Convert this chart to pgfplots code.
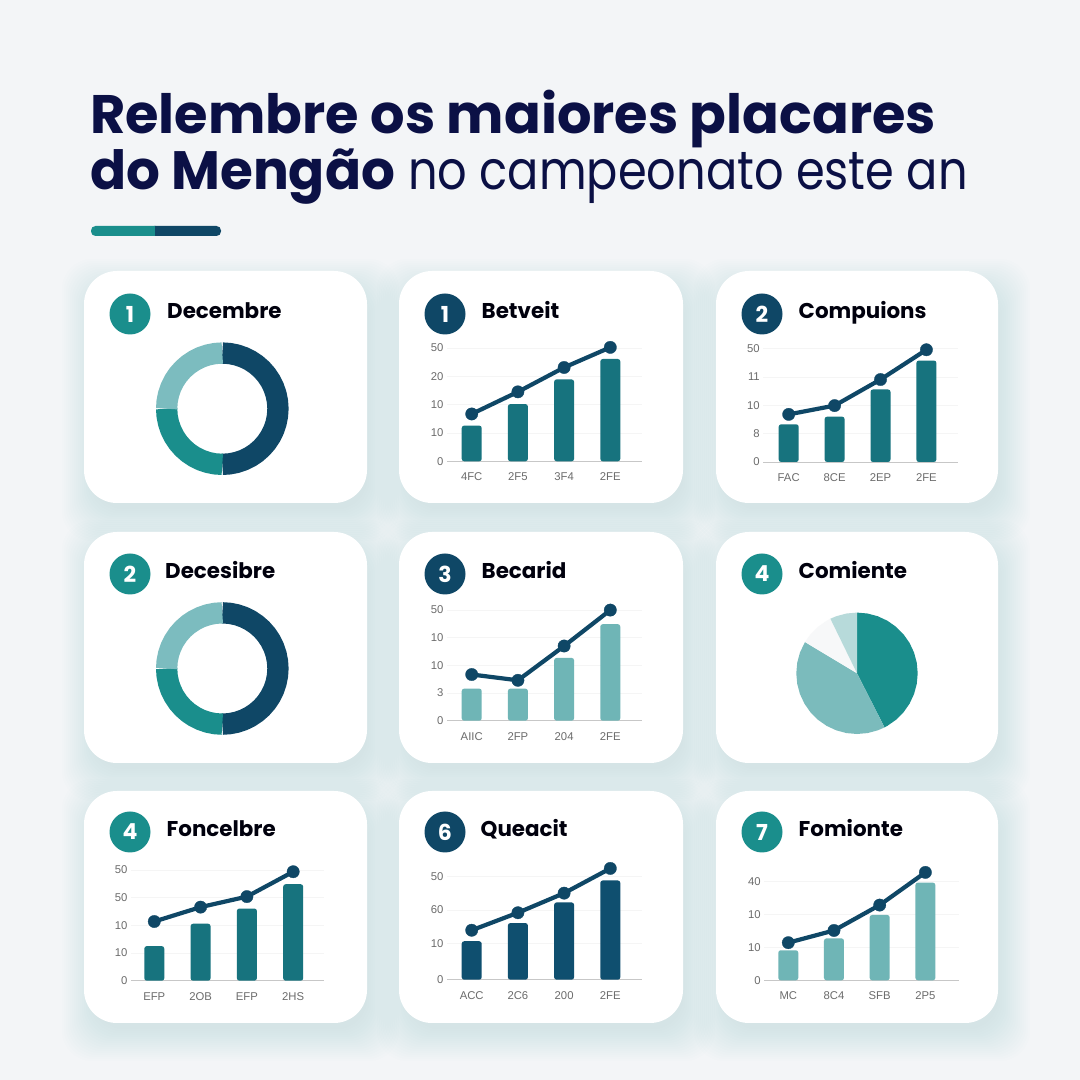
\documentclass[border=0pt]{standalone}
\usepackage{fontspec}
\setmainfont{Poppins}
\newfontfamily\ls{Liberation Sans}
\usepackage{pgfplots}
\pgfplotsset{compat=1.18}
\definecolor{bgc}{HTML}{F3F5F7}
\definecolor{navy}{HTML}{0F4766}
\definecolor{teal1}{HTML}{1A8E8C}
\definecolor{barteal}{HTML}{17737E}
\definecolor{barnavy}{HTML}{0F4F6F}
\definecolor{barlight}{HTML}{6FB5B6}
\definecolor{lightring}{HTML}{7CBCBF}
\definecolor{titlec}{HTML}{0B1045}
\definecolor{shad}{HTML}{5A7F95}
\newcommand{\card}[4]{% left, top, right, bottom in pixels from the top left
  \foreach \i in {0,...,16}{
    \fill[shad,opacity=0.0085,rounded corners=30pt]
      ({#1-22+2*\i},{1080-#4-38+2*\i}) rectangle ({#3+32-2*\i},{1080-#2+12-2*\i});
  }
  \fill[white,rounded corners=33pt] (#1,{1080-#4}) rectangle (#3,{1080-#2});
}
\newcommand{\head}[6]{% badge x, y, colour, digit, title x, title
  \fill[#3] (#1,{1080-#2}) circle (20.5);
  \node[white,font=\fontsize{22}{22}\selectfont\bfseries] at (#1,{1080-#2}) {#4};
  \node[anchor=base west,inner sep=0pt,text=black!95!blue,font=\fontsize{21.4}{21.4}\selectfont\bfseries] at (#5,{1080-#2-4.5}) {#6};
}
\pgfplotsset{
  barchart/.style={
    scale only axis, clip=false, ymin=0,
    axis x line=bottom, axis y line=left,
    axis line style={-},
    x axis line style={draw=black!22!white,line width=0.9pt},
    y axis line style={draw=none},
    major tick length=0pt,
    ymajorgrids, grid style={draw=black!4!white,line width=0.7pt},
    xtick={0,1,2,3},
    tick label style={font=\fontsize{11.3}{12}\selectfont\ls,text=black!58!white},
    xticklabel style={yshift=-8pt},
    yticklabel style={xshift=0pt},
    /pgf/number format/assume math mode=true,
    anchor=south west,
  },
  barplot/.style={ybar,bar width=20pt,draw=none,fill=#1,rounded corners=2.5pt,forget plot},
  lineplot/.style={color=navy,line width=4.2pt,line join=round,mark=*,mark size=6.2pt,mark options={fill=navy,draw=navy,line width=0.3pt},forget plot},
  ring/.style={hide axis,scale only axis,clip=false,anchor=center,width=140pt,height=140pt,xmin=-70,xmax=70,ymin=-70,ymax=70},
  seg/.style={draw=#1,line width=21.3pt,line cap=butt,line join=round,no markers,data cs=polar,forget plot},
  wedge/.style={fill=#1,draw=none,no markers,data cs=polar,forget plot},
}
\begin{document}
\begin{tikzpicture}[x=1pt,y=1pt]
\fill[bgc] (0,0) rectangle (1080,1080);
\path[use as bounding box] (0,0) rectangle (1080,1080);

% title
\node[anchor=base west,inner sep=0pt,text=titlec,font=\fontsize{54.2}{54}\selectfont\bfseries] at (90,946) {Relembre os maiores placares};
\node[anchor=base west,inner sep=0pt,text=titlec,font=\fontsize{54}{54}\selectfont\bfseries] at (90,890) {\scalebox{0.985}[1]{do Mengão}};
\node[anchor=base west,inner sep=0pt,text=titlec,font=\fontsize{54}{54}\selectfont] at (408,890) {\scalebox{0.857}[1]{no campeonato este an}};
\fill[navy,rounded corners=4.5pt] (150,844) rectangle (221,854);
\fill[teal1,rounded corners=4.5pt] (91,844) rectangle (160,854);
\fill[navy] (155,844) rectangle (165,854);

% cards
\card{84}{271}{367}{503}\card{399}{271}{683}{503}\card{716}{271}{998}{503}
\card{84}{532}{367}{763}\card{399}{532}{683}{763}\card{716}{532}{998}{763}
\card{84}{791}{367}{1023}\card{399}{791}{683}{1023}\card{716}{791}{998}{1023}

\head{130}{314}{teal1}{1}{167}{Decembre}
\head{445}{314}{navy}{1}{481.5}{Betveit}
\head{762}{314}{navy}{2}{798.5}{Compuions}
\head{130}{574}{teal1}{2}{165}{Decesibre}
\head{445}{574}{navy}{3}{481.5}{Becarid}
\head{762}{574}{teal1}{4}{798.5}{Comiente}
\head{130}{832}{teal1}{4}{166.5}{Foncelbre}
\head{445}{832}{navy}{6}{480.5}{Queacit}
\head{762}{832}{teal1}{7}{798.5}{Fomionte}

% donut 1
\begin{axis}[ring,at={(222.3pt,671.3pt)}]
\addplot[seg=navy] coordinates {(90,55.65)(82.5,55.65)(75,55.65)(67.5,55.65)(60,55.65)(52.5,55.65)(45,55.65)(37.5,55.65)(30,55.65)(22.5,55.65)(15,55.65)(7.5,55.65)(0,55.65)(-7.5,55.65)(-15,55.65)(-22.5,55.65)(-30,55.65)(-37.5,55.65)(-45,55.65)(-52.5,55.65)(-60,55.65)(-67.5,55.65)(-75,55.65)(-82.5,55.65)(-90,55.65)};
\addplot[seg=teal1] coordinates {(-90,55.65)(-97.5,55.65)(-105,55.65)(-112.5,55.65)(-120,55.65)(-127.5,55.65)(-135,55.65)(-142.5,55.65)(-150,55.65)(-157.5,55.65)(-165,55.65)(-172.5,55.65)(-180,55.65)};
\addplot[seg=lightring] coordinates {(180,55.65)(172.5,55.65)(165,55.65)(157.5,55.65)(150,55.65)(142.5,55.65)(135,55.65)(127.5,55.65)(120,55.65)(112.5,55.65)(105,55.65)(97.5,55.65)(90,55.65)};
\end{axis}
% donut 2
\begin{axis}[ring,at={(222.3pt,411.5pt)}]
\addplot[seg=navy] coordinates {(90,55.65)(82.5,55.65)(75,55.65)(67.5,55.65)(60,55.65)(52.5,55.65)(45,55.65)(37.5,55.65)(30,55.65)(22.5,55.65)(15,55.65)(7.5,55.65)(0,55.65)(-7.5,55.65)(-15,55.65)(-22.5,55.65)(-30,55.65)(-37.5,55.65)(-45,55.65)(-52.5,55.65)(-60,55.65)(-67.5,55.65)(-75,55.65)(-82.5,55.65)(-90,55.65)};
\addplot[seg=teal1] coordinates {(-90,55.65)(-97.5,55.65)(-105,55.65)(-112.5,55.65)(-120,55.65)(-127.5,55.65)(-135,55.65)(-142.5,55.65)(-150,55.65)(-157.5,55.65)(-165,55.65)(-172.5,55.65)(-180,55.65)};
\addplot[seg=lightring] coordinates {(180,55.65)(172.5,55.65)(165,55.65)(157.5,55.65)(150,55.65)(142.5,55.65)(135,55.65)(127.5,55.65)(120,55.65)(112.5,55.65)(105,55.65)(97.5,55.65)(90,55.65)};
\end{axis}
% pie
\begin{axis}[ring,at={(857pt,406.7pt)}]
\addplot[wedge=teal1] coordinates {(0,0)(90,60.7)(80,60.7)(70,60.7)(60,60.7)(50,60.7)(40,60.7)(30,60.7)(20,60.7)(10,60.7)(0,60.7)(-10,60.7)(-20,60.7)(-30,60.7)(-40,60.7)(-50,60.7)(-60,60.7)(-63,60.7)};
\addplot[wedge=barlight!92!white] coordinates {(0,0)(-63,60.7)(-70,60.7)(-80,60.7)(-90,60.7)(-100,60.7)(-110,60.7)(-120,60.7)(-130,60.7)(-140,60.7)(-150,60.7)(-160,60.7)(-170,60.7)(-180,60.7)(-190,60.7)(-200,60.7)(-211,60.7)};
\addplot[wedge=bgc!70!white] coordinates {(0,0)(149,60.7)(140,60.7)(130,60.7)(120,60.7)(116,60.7)};
\addplot[wedge=barlight!50!white] coordinates {(0,0)(116,60.7)(110,60.7)(100,60.7)(90,60.7)};
\end{axis}

% Betveit
\begin{axis}[barchart,at={(447pt,618.7pt)},width=195pt,height=124.7pt,ymax=4.4,xmin=-0.535,xmax=3.686,
  ytick={0,1,2,3,4},yticklabels={0,10,10,20,50},xticklabels={4FC,2F5,3F4,2FE}]
\addplot[barplot=barteal] coordinates {(0,1.26)(1,2.02)(2,2.89)(3,3.61)};
\addplot[lineplot] coordinates {(0,1.67)(1,2.45)(2,3.31)(3,4.02)};
\end{axis}
% Compuions
\begin{axis}[barchart,at={(763.3pt,618pt)},width=195pt,height=124.7pt,ymax=4.4,xmin=-0.553,xmax=3.695,
  ytick={0,1,2,3,4},yticklabels={0,8,10,11,50},xticklabels={FAC,8CE,2EP,2FE}]
\addplot[barplot=barteal] coordinates {(0,1.33)(1,1.6)(2,2.56)(3,3.58)};
\addplot[lineplot] coordinates {(0,1.68)(1,1.99)(2,2.91)(3,3.96)};
\end{axis}
% Becarid
\begin{axis}[barchart,at={(447pt,359.3pt)},width=195pt,height=121.7pt,ymax=4.4,xmin=-0.535,xmax=3.686,
  ytick={0,1,2,3,4},yticklabels={0,3,10,10,50},xticklabels={AIIC,2FP,204,2FE}]
\addplot[barplot=barlight] coordinates {(0,1.16)(1,1.16)(2,2.27)(3,3.49)};
\addplot[lineplot] coordinates {(0,1.67)(1,1.46)(2,2.70)(3,4.0)};
\end{axis}
% Foncelbre
\begin{axis}[barchart,at={(131pt,99.3pt)},width=193.3pt,height=121.7pt,ymax=4.4,xmin=-0.503,xmax=3.672,
  ytick={0,1,2,3,4},yticklabels={0,10,10,50,50},xticklabels={EFP,2OB,EFP,2HS}]
\addplot[barplot=barteal] coordinates {(0,1.25)(1,2.06)(2,2.61)(3,3.49)};
\addplot[lineplot] coordinates {(0,2.14)(1,2.66)(2,3.04)(3,3.94)};
\end{axis}
% Queacit
\begin{axis}[barchart,at={(447pt,100.3pt)},width=195pt,height=120.2pt,ymax=3.5,xmin=-0.535,xmax=3.686,
  ytick={0,1.05,2.03,3.01},yticklabels={0,10,60,50},xticklabels={ACC,2C6,200,2FE}]
\addplot[barplot=barnavy] coordinates {(0,1.12)(1,1.65)(2,2.25)(3,2.89)};
\addplot[lineplot] coordinates {(0,1.44)(1,1.95)(2,2.52)(3,3.24)};
\end{axis}
% Fomionte
\begin{axis}[barchart,at={(764.3pt,99.7pt)},width=195pt,height=118.8pt,ymax=3.6,xmin=-0.525,xmax=3.742,
  ytick={0,1,2,3},yticklabels={0,10,10,40},xticklabels={MC,8C4,SFB,2P5}]
\addplot[barplot=barlight] coordinates {(0,0.91)(1,1.27)(2,1.98)(3,2.96)};
\addplot[lineplot] coordinates {(0,1.14)(1,1.51)(2,2.28)(3,3.27)};
\end{axis}
\end{tikzpicture}
\end{document}
